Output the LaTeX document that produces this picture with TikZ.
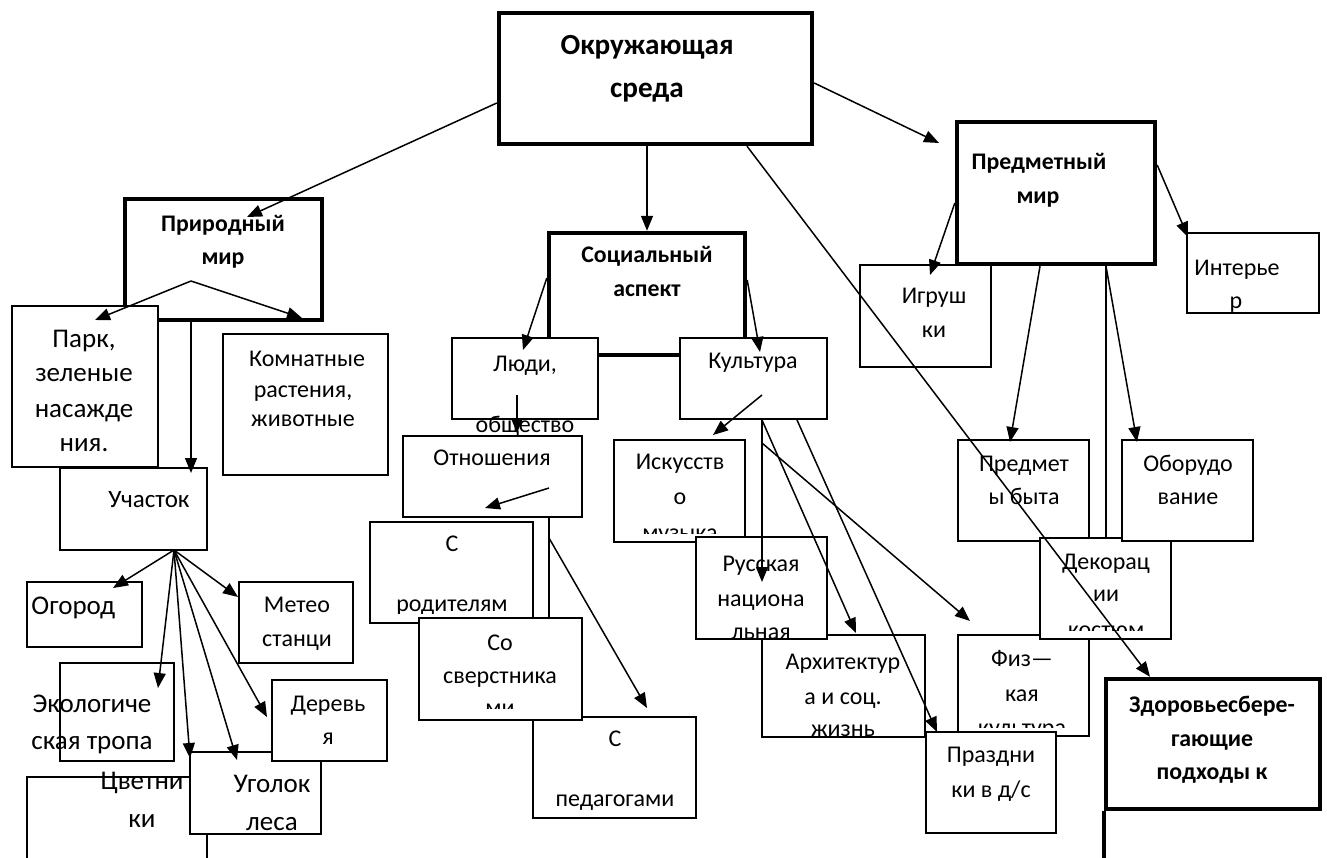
\documentclass[tikz,border=0pt]{standalone}
\usepackage{fontspec}
\setmainfont{Carlito}
\usetikzlibrary{arrows.meta,fit}
\begin{document}
\begin{tikzpicture}[x=0.5pt,y=-0.5pt,
 box/.style={draw,line width=1pt,fill=white,inner sep=0pt},
 tbox/.style={box,line width=2.2pt},
 arr/.style={draw,line width=0.75pt,-{Triangle[length=7.5pt,width=6pt]}},
 ln/.style={draw,line width=0.75pt},
 tx/.style={inner sep=0pt,anchor=mid,font=\fontsize{12}{14}\selectfont},
 tl/.style={tx,font=\fontsize{13.5}{16}\selectfont},
 tm/.style={tx,font=\fontsize{12.5}{15}\selectfont},
 tb/.style={tx,font=\fontsize{11.9}{14}\selectfont\bfseries},
 tt/.style={tx,font=\fontsize{14.6}{17}\selectfont\bfseries}]
\useasboundingbox (0,0) rectangle (1327,857);
\clip (0,0) rectangle (1327,857);
\fill[white] (0,0) rectangle (1327,857);

% ---- thick main boxes
\node[tbox,fit={(499,13)(812,144)}] (okr) {};
\node[tbox,fit={(125,199)(322,320)}] (prir) {};
\node[tbox,fit={(549,233)(745,355)}] (soc) {};
\node[tbox,fit={(957,122)(1155,264)}] (pred) {};
\node[tbox,fit={(1106,679)(1320,809)}] (zdor) {};
\draw[line width=2.2pt] (zdor.south west) -- (zdor.south west |- 0,880);

% ---- natural world
\node[box,fit={(12,306)(158,467)}] (park) {};
\node[box,fit={(223,334)(388,475)}] (komn) {};
\node[box,fit={(60,468)(207,550)}] (uch) {};
\node[box,fit={(27,582)(142,647)}] (ogor) {};
\node[box,fit={(239,582)(353,663)}] (meteo) {};
\node[box,fit={(60,663)(174,761)}] (eco) {};
\node[box,fit={(27,777)(207,900)}] (cvet) {};
\node[box,fit={(190,752)(321,834)}] (ugol) {};
\node[box,fit={(272,680)(387,761)}] (derev) {};

% ---- social
\node[box,fit={(452,338)(598,419)}] (ludi) {};
\node[box,fit={(680,338)(827,419)}] (kult) {};
\node[box,fit={(403,436)(582,517)}] (otn) {};
\draw[ln] (otn.south -| 549,0) -- (549,618) coordinate (sverTop);
\node[box,fit={(370,522)(533,623)}] (rod) {};
\node[box,fit={(533,717)(696,818)}] (ped) {};
\node[box,fit={(419,618)(582,720)}] (sver) {};
\node[box,fit={(614,440)(745,542)}] (isk) {};
\node[box,fit={(762,635)(925,737)}] (arch) {};
\node[box,fit={(696,537)(827,639)}] (rus) {};
\node[box,fit={(958,635)(1089,736)}] (fiz) {};
\node[box,fit={(926,732)(1056,833)}] (prazd) {};

% ---- object world
\node[box,fit={(860,265)(991,367)}] (igr) {};
\node[box,fit={(1187,233)(1319,313)}] (inter) {};
\node[box,fit={(958,440)(1089,541)}] (predm) {};
\draw[ln] (pred.south -| 1106,0) -- (1106,538) coordinate (dekTop);
\node[box,fit={(1040,538)(1171,639)}] (dekor) {};
\node[box,fit={(1122,440)(1253,541)}] (obor) {};

% ---- texts
\node[tt] (t1) at (647,50) {Окружающая};
\node[tt] (t2) at (647,93) {среда};
\node[tb] (t3) at (223,227) {Природный};
\node[tb] (t4) at (223,260) {мир};
\node[tb] (t5) at (647,258) {Социальный};
\node[tb] (t6) at (647,292) {аспект};
\node[tb] (t7) at (1039,165) {Предметный};
\node[tb] (t8) at (1038,199) {мир};
\node[tb] (t9) at (1212,708) {Здоровьесбере-};
\node[tb] (t10) at (1212,742) {гающие};
\node[tb] (t11) at (1212,775) {подходы к};

\node[tl] (t12) at (84,343) {Парк,};
\node[tl] (t13) at (84,377) {зеленые};
\node[tl] (t14) at (84,413) {насажде};
\node[tl] (t15) at (84,447) {ния.};
\node[tx] (t16) at (307,362) {Комнатные};
\node[tx] (t17) at (303,393) {растения,};
\node[tx] (t18) at (303,422) {животные};
\node[tm] (t19) at (149,503) {Участок};
\node[tl,anchor=mid west] (t20) at (31,610) {Огород};
\node[tx] (t21) at (297,608) {Метео};
\node[tx] (t22) at (297,642) {станци};
\node[tl] (t23) at (92,708) {Экологиче};
\node[tl] (t24) at (92,745) {ская тропа};
\node[tx] (t25) at (328,707) {Деревь};
\node[tx] (t26) at (328,740) {я};
\node[tl] (t27) at (142,785) {Цветни};
\node[tl] (t28) at (142,823) {ки};
\node[tl] (t29) at (272,788) {Уголок};
\begin{scope}\clip (190,752) rectangle (321,834);
\node[tl] (t30) at (272,826) {леса};
\end{scope}

\node[tx] (t31) at (525,367) {Люди,};
\node[tx] (t32) at (525,428) {общество};
\node[tx] (t33) at (753,364) {Культура};
\node[tx] (t34) at (492,461) {Отношения};
\node[tx] (t35) at (452,547) {С};
\begin{scope}\clip (370,522) rectangle (533,613);
\node[tx] (t36) at (452,607) {родителям};
\end{scope}
\node[tx] (t37) at (500,646) {Со};
\node[tx] (t38) at (500,679) {сверстника};
\begin{scope}\clip (419,618) rectangle (582,708);
\node[tx] (t39) at (500,711) {ми};
\end{scope}
\node[tx] (t40) at (615,742) {С};
\node[tx] (t41) at (615,802) {педагогами};
\node[tx] (t42) at (680,465) {Искусств};
\node[tx] (t43) at (680,500) {о};
\begin{scope}\clip (614,440) rectangle (745,533);
\node[tx] (t44) at (680,536) {музыка};
\end{scope}
\node[tx] (t45) at (761,567) {Русская};
\node[tx] (t46) at (761,602) {национа};
\begin{scope}\clip (696,537) rectangle (827,639);
\node[tx] (t47) at (761,635) {льная};
\end{scope}
\node[tx] (t48) at (843,665) {Архитектур};
\node[tx] (t49) at (843,700) {а и соц.};
\node[tx] (t50) at (843,732) {жизнь};
\node[tx] (t51) at (1022,662) {Физ—};
\node[tx] (t52) at (1022,697) {кая};
\begin{scope}\clip (958,635) rectangle (1089,727);
\node[tx] (t53) at (1022,731) {культура};
\end{scope}
\node[tx] (t54) at (991,758) {Праздни};
\node[tx] (t55) at (991,793) {ки в д/с};

\node[tx] (t56) at (934,299) {Игруш};
\node[tx] (t57) at (934,333) {ки};
\node[tx] (t58) at (1237,271) {Интерье};
\begin{scope}\clip (1187,233) rectangle (1319,313);
\node[tx] (t59) at (1236,304) {р};
\end{scope}
\node[tx] (t60) at (1024,467) {Предмет};
\node[tx] (t61) at (1024,500) {ы быта};
\node[tx] (t62) at (1188,467) {Оборудо};
\node[tx] (t63) at (1188,500) {вание};
\node[tx] (t64) at (1106,565) {Декорац};
\node[tx] (t65) at (1106,597) {ии};
\begin{scope}\clip (1040,538) rectangle (1171,630);
\node[tx] (t66) at (1106,633) {костюм};
\end{scope}

% ---- connectors
\coordinate (prirTip) at (247,217);
\coordinate (predTip) at (939,143);
\coordinate (prirFork) at (191,281);
\coordinate (uchFork) at (174,550);
\draw[arr] (okr.west |- 0,103) -- (prirTip);
\draw[arr] (okr.south -| 647,151) -- (soc.north -| 647,0);
\draw[arr] (okr.east |- 0,83) -- (predTip);
\draw[arr] (okr.south -| 747,0) -- (zdor.north -| 1150,0);

\draw[arr] (prirFork) -- (95,320) coordinate (parkTip);
\draw[arr] (prirFork) -- (302,318) coordinate (komnTip);
\draw[arr] (prir.south -| 191,0) -- (191,473) coordinate (uchTip);

\draw[arr] (uchFork) -- (113,588) coordinate (ogorTip);
\draw[arr] (uchFork) -- (238,597) coordinate (meteoTip);
\draw[arr] (uchFork) -- (158,688) coordinate (ecoTip);
\draw[arr] (uchFork) -- (190,758) coordinate (cvetTip);
\draw[arr] (uchFork) -- (237,760) coordinate (ugolTip);
\draw[arr] (uchFork) -- (267,717) coordinate (derevTip);

\draw[arr] (soc.west |- 0,278) -- (523,350) coordinate (ludiTip);
\draw[arr] (soc.east |- 0,280) -- (760,352) coordinate (kultTip);
\draw[arr] (517,395) coordinate (ludiOut) -- (517,433) coordinate (otnTip);
\draw[arr] (549,488) coordinate (otnOut) -- (485,508) coordinate (rodTip);
\draw[arr] (549,538) coordinate (otnOut2) -- (647,708) coordinate (pedTip);

\draw[arr] (762,395) coordinate (kultOut) -- (713,435) coordinate (iskTip);
\draw[arr] (kult.south -| 762,0) -- (762,582) coordinate (rusTip);
\draw[arr] (kult.south -| 762,0) -- (856,633) coordinate (archTip);
\draw[arr] (kult.south -| 797,0) -- (937,732) coordinate (prazdTip);
\draw[arr] (762,443) coordinate (kultOut2) -- (970,621) coordinate (fizTip);

\draw[arr] (pred.west |- 0,203) -- (930,275) coordinate (igrTip);
\draw[arr] (pred.east |- 0,165) -- (1188,237) coordinate (interTip);
\draw[arr] (pred.south -| 1040,0) -- (1010,442) coordinate (predmTip);
\draw[arr] (pred.south -| 1106,0) -- (1137,442) coordinate (oborTip);
\end{tikzpicture}
\end{document}
